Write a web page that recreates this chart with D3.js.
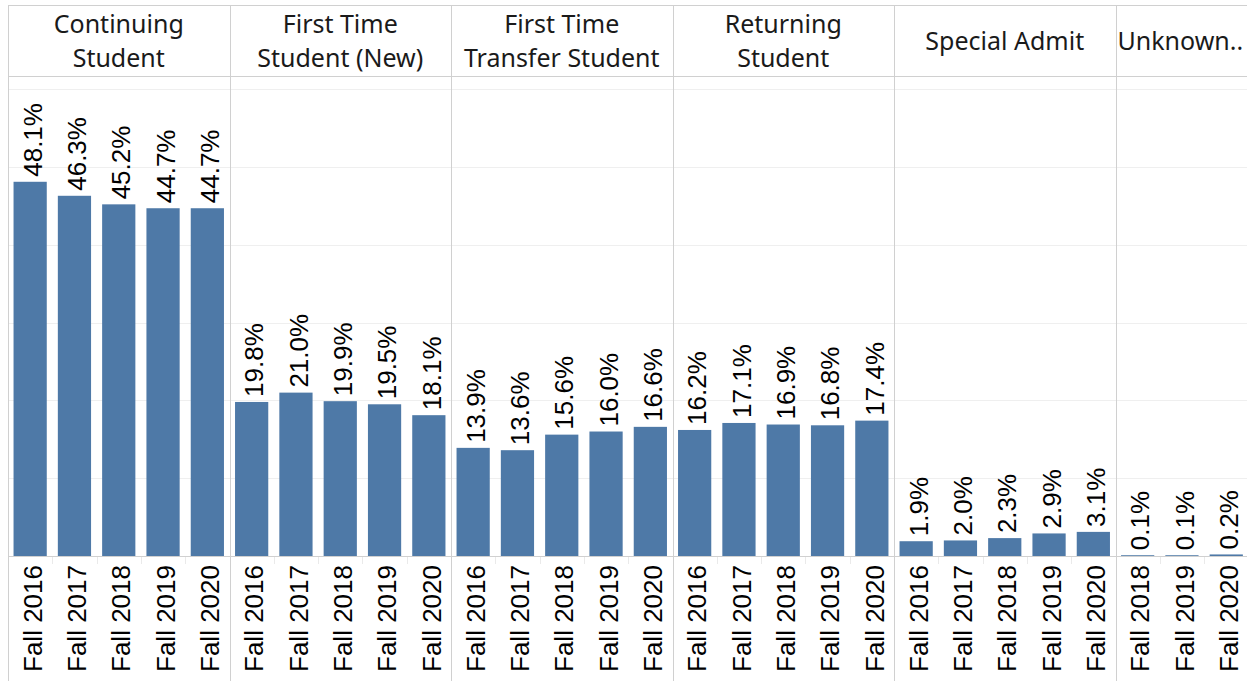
<!DOCTYPE html>
<html>
<head>
<meta charset="utf-8">
<script src="https://cdn.jsdelivr.net/npm/d3@7"></script>
<style>
  html, body { margin: 0; padding: 0; background: #fff; }
  svg { display: block; }
</style>
</head>
<body>
<svg id="chart" width="1247" height="681"></svg>
<script>
// ---- Data ----
const panels = ["Continuing Student", "First Time Student (New)", "First Time Transfer Student", "Returning Student", "Special Admit", "Unknown.."];
const panelHeaderLines = [["Continuing", "Student"], ["First Time", "Student (New)"], ["First Time", "Transfer Student"], ["Returning", "Student"], ["Special Admit"], ["Unknown.."]];
const terms = ["Fall 2016", "Fall 2017", "Fall 2018", "Fall 2019", "Fall 2020"];
const unknownTerms = ["Fall 2018", "Fall 2019", "Fall 2020"];
const continuingValues = [48.1, 46.3, 45.2, 44.7, 44.7];
const firstTimeNewValues = [19.8, 21.0, 19.9, 19.5, 18.1];
const transferValues = [13.9, 13.6, 15.6, 16.0, 16.6];
const returningValues = [16.2, 17.1, 16.9, 16.8, 17.4];
const specialAdmitValues = [1.9, 2.0, 2.3, 2.9, 3.1];
const unknownValues = [0.1, 0.1, 0.2];
const gridTicks = [10, 20, 30, 40, 50, 60];

const panelData = [
  { terms: terms, values: continuingValues },
  { terms: terms, values: firstTimeNewValues },
  { terms: terms, values: transferValues },
  { terms: terms, values: returningValues },
  { terms: terms, values: specialAdmitValues },
  { terms: unknownTerms, values: unknownValues }
];

// ---- Layout ----
const svg = d3.select("#chart");
const W = 1247, H = 681;
const leftX = 8, topY = 5, headerBottom = 76, baseY = 556;
const bandStep = 44.3;
const borderColor = "#d0d0d0";
const gridColor = "#efefef";
const barColor = "#4e79a7";

const y = d3.scaleLinear().domain([0, 60]).range([baseY, 89.2]);

// panel x extents
let cursor = leftX;
const panelX = panelData.map(p => {
  const x0 = cursor;
  cursor += p.terms.length * bandStep;
  return [x0, cursor];
});

// gridlines (across all panels)
svg.append("g").selectAll("line").data(gridTicks).join("line")
  .attr("x1", leftX).attr("x2", W)
  .attr("y1", d => Math.round(y(d)) + 0.5).attr("y2", d => Math.round(y(d)) + 0.5)
  .attr("stroke", gridColor).attr("stroke-width", 1);

// baseline
svg.append("line")
  .attr("x1", leftX).attr("x2", W)
  .attr("y1", baseY + 0.5).attr("y2", baseY + 0.5)
  .attr("stroke", borderColor).attr("stroke-width", 1);

// header borders
svg.append("line").attr("x1", leftX).attr("x2", W).attr("y1", topY + 0.5).attr("y2", topY + 0.5)
  .attr("stroke", borderColor);
svg.append("line").attr("x1", leftX).attr("x2", W).attr("y1", headerBottom + 0.5).attr("y2", headerBottom + 0.5)
  .attr("stroke", borderColor);

// vertical panel lines
const vlines = [leftX].concat(panelX.slice(0, -1).map(d => d[1]));
svg.append("g").selectAll("line").data(vlines).join("line")
  .attr("x1", d => Math.round(d) + 0.5).attr("x2", d => Math.round(d) + 0.5)
  .attr("y1", topY).attr("y2", H)
  .attr("stroke", borderColor);

panelData.forEach((p, i) => {
  const [x0, x1] = panelX[i];
  const x = d3.scaleBand().domain(p.terms).range([x0, x1]).paddingInner(0.25).paddingOuter(0.125);
  const g = svg.append("g");

  // header
  const lines = panelHeaderLines[i];
  const isUnknown = i === panelData.length - 1;
  const ht = g.append("text")
    .attr("font-family", "'Noto Sans', sans-serif")
    .attr("font-size", 25)
    .attr("fill", "#1a1a1a")
    .attr("text-anchor", isUnknown ? "start" : "middle");
  const hx = isUnknown ? x0 + 2 : (x0 + x1) / 2;
  if (lines.length === 2) {
    ht.append("tspan").attr("x", hx).attr("y", 33).text(lines[0]);
    ht.append("tspan").attr("x", hx).attr("y", 67).text(lines[1]);
  } else {
    ht.append("tspan").attr("x", hx).attr("y", 50).text(lines[0]);
  }

  // small tick separators below baseline
  g.selectAll("line.tk").data(p.terms.slice(1)).join("line")
    .attr("class", "tk")
    .attr("x1", d => Math.round(x(d) - x.step() * x.paddingInner() / 2) + 0.5)
    .attr("x2", d => Math.round(x(d) - x.step() * x.paddingInner() / 2) + 0.5)
    .attr("y1", baseY + 1).attr("y2", baseY + 8)
    .attr("stroke", "#eaeaea");

  // bars
  g.selectAll("rect").data(p.values).join("rect")
    .attr("x", (d, j) => x(p.terms[j]))
    .attr("width", x.bandwidth())
    .attr("y", d => y(d))
    .attr("height", d => baseY - y(d))
    .attr("fill", barColor);

  // value labels
  g.selectAll("text.val").data(p.values).join("text")
    .attr("class", "val")
    .attr("transform", (d, j) => `translate(${x(p.terms[j]) + x.bandwidth() / 2},${y(d) - 5}) rotate(-90)`)
    .attr("dy", "0.45em")
    .attr("font-family", "Arial, 'Liberation Sans', sans-serif")
    .attr("font-size", 26)
    .attr("fill", "#000")
    .text(d => d.toFixed(1) + "%");

  // x tick labels
  g.selectAll("text.tick").data(p.terms).join("text")
    .attr("class", "tick")
    .attr("transform", d => `translate(${x(d) + x.bandwidth() / 2},${baseY + 9}) rotate(-90)`)
    .attr("dy", "0.45em")
    .attr("text-anchor", "end")
    .attr("font-family", "Arial, 'Liberation Sans', sans-serif")
    .attr("font-size", 26)
    .attr("fill", "#000")
    .text(d => d);
});
</script>
</body>
</html>
